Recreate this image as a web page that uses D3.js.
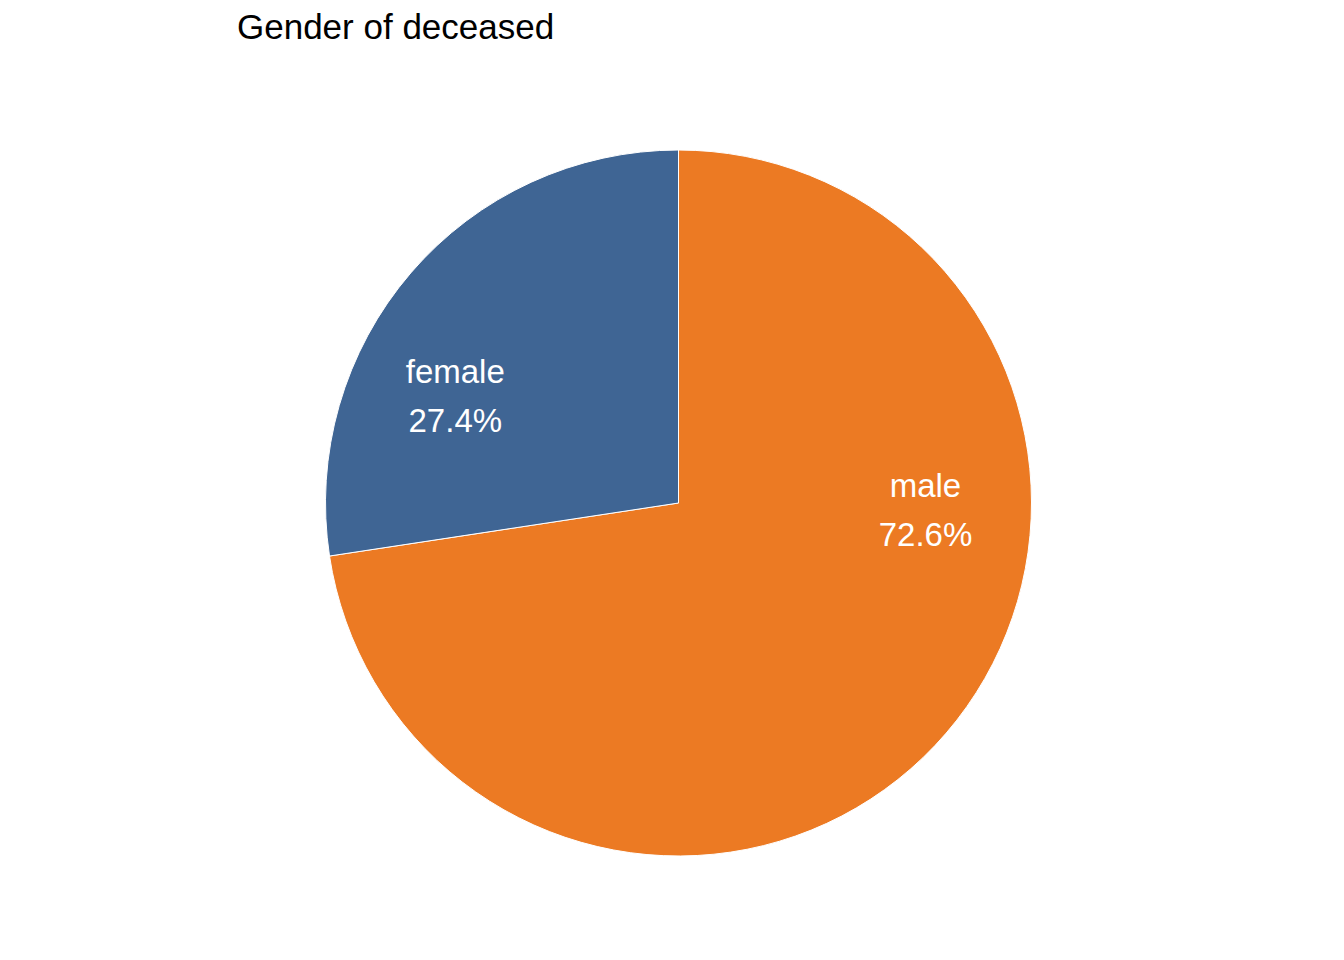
<!DOCTYPE html>
<html>
<head>
<meta charset="utf-8">
<script src="https://cdn.jsdelivr.net/npm/d3@7"></script>
<style>
  body { margin: 0; background: #fff; }
  svg { display: block; font-family: "Liberation Sans", Arial, Helvetica, sans-serif; }
</style>
</head>
<body>
<svg id="chart"></svg>
<script>
const categories = ['male', 'female'];
const shares = [72.6, 27.4];
const colors = ['#ec7a23', '#3f6594'];

const width = 1344;
const height = 960;
const cx = 678.5;
const cy = 503;
const radius = 353;

// plotly-style label placement: angle (deg clockwise from top) and radius fraction
const labelPlacement = {
  male: { angle: 91.9, r: 0.70 },
  female: { angle: 295.4, r: 0.70 }
};

const svg = d3.select('#chart')
  .attr('width', width)
  .attr('height', height);

svg.append('text')
  .attr('x', 237)
  .attr('y', 39)
  .attr('font-size', 35)
  .attr('fill', '#000')
  .text('Gender of deceased');

const data = categories.map(function(c, i) {
  return { name: c, value: shares[i], color: colors[i] };
});

const pie = d3.pie()
  .sort(null)
  .value(function(d) { return d.value; });

const arc = d3.arc()
  .innerRadius(0)
  .outerRadius(radius);

const g = svg.append('g')
  .attr('transform', 'translate(' + cx + ',' + cy + ')');

g.selectAll('.slice')
  .data(pie(data))
  .enter()
  .append('path')
  .attr('class', 'slice')
  .attr('d', arc)
  .attr('fill', function(d) { return d.data.color; })
  .attr('stroke', '#ffffff')
  .attr('stroke-width', 1);

const labels = g.selectAll('.label')
  .data(pie(data))
  .enter()
  .append('text')
  .attr('class', 'label')
  .attr('text-anchor', 'middle')
  .attr('font-size', 33)
  .attr('fill', '#ffffff')
  .attr('transform', function(d) {
    const p = labelPlacement[d.data.name];
    const pt = d3.pointRadial(p.angle * Math.PI / 180, p.r * radius);
    return 'translate(' + pt[0] + ',' + pt[1] + ')';
  });

labels.append('tspan')
  .attr('x', 0)
  .attr('y', -14)
  .text(function(d) { return d.data.name; });

labels.append('tspan')
  .attr('x', 0)
  .attr('y', 35)
  .text(function(d) { return d.data.value.toFixed(1) + '%'; });
</script>
</body>
</html>
